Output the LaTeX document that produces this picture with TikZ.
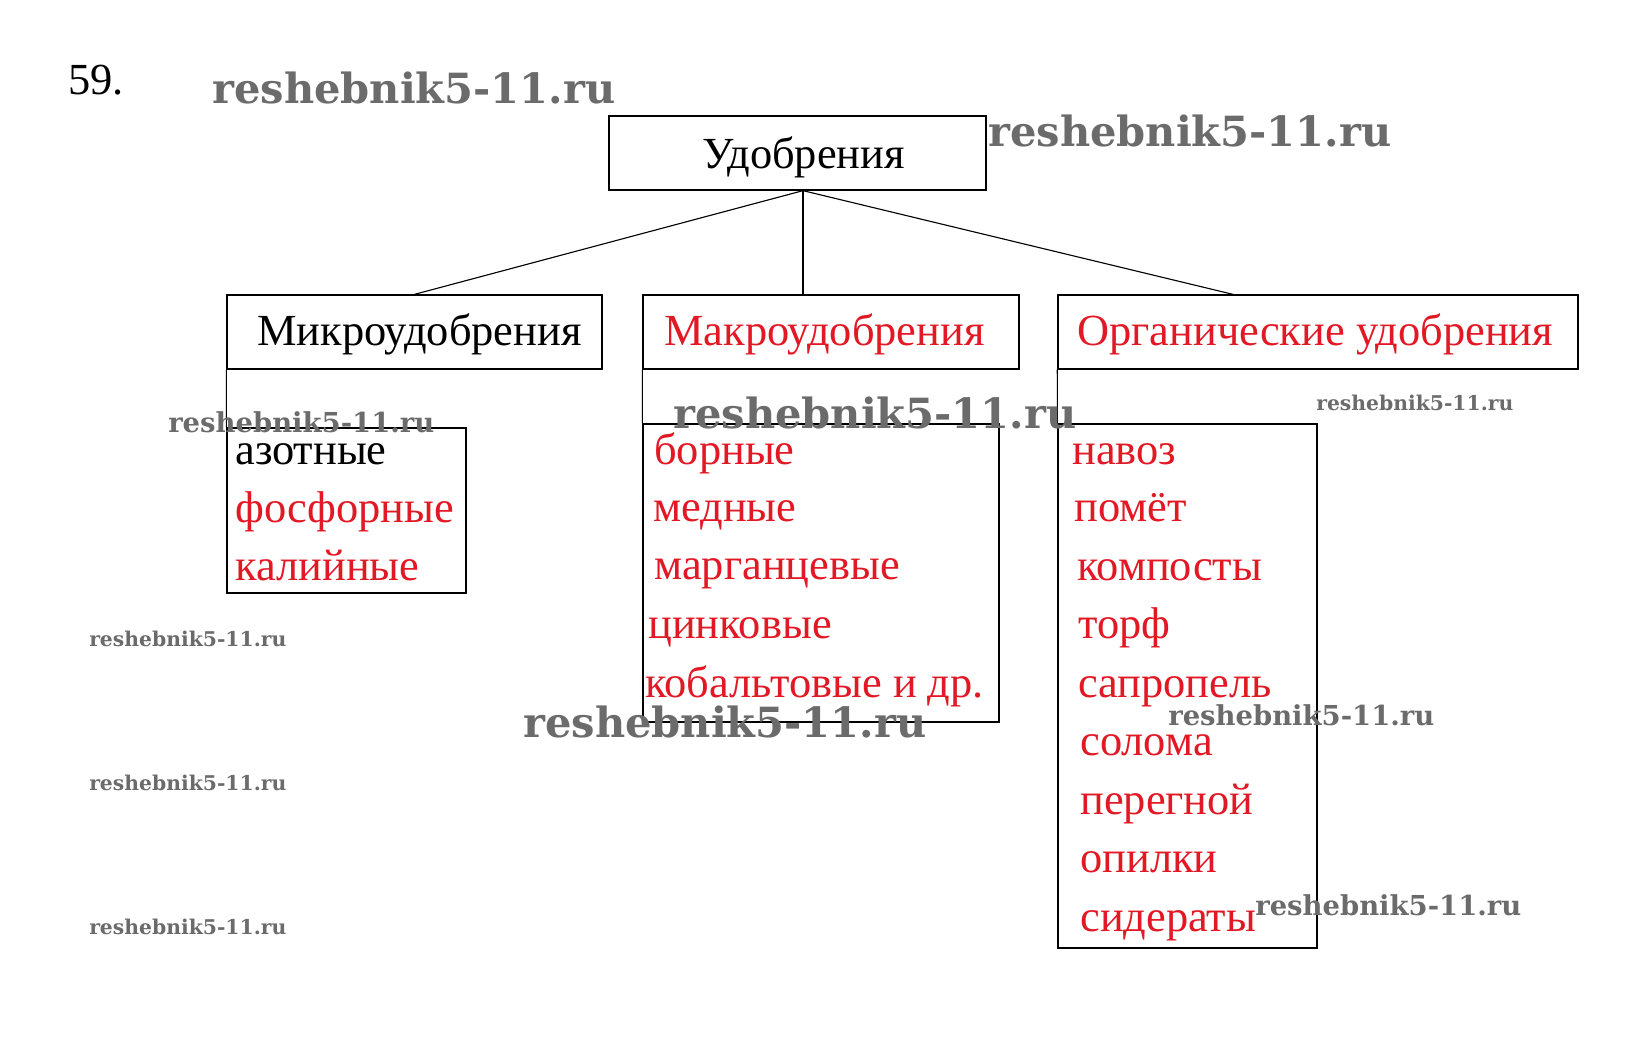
\documentclass[tikz,border=0pt]{standalone}
\usepackage{fontspec}
\setmainfont{Liberation Serif}
\newfontfamily\wmfont{DejaVu Serif}
\usepackage{graphicx}
\definecolor{myred}{RGB}{226,24,36}
\newcommand\mainsize{\fontsize{31.6pt}{37pt}\selectfont}
\newcommand\wmark[1]{\resizebox{#1}{!}{\wmfont\bfseries reshebnik5-11.ru}}
\begin{document}
\begin{tikzpicture}[x=0.025cm,y=-0.025cm,
  box/.style={draw, rectangle, line width=0.9pt, inner sep=0pt},
  conn/.style={line width=0.8pt},
  txt/.style={anchor=base west, inner sep=0pt, font=\mainsize},
  rtxt/.style={txt, text=myred},
  wm/.style={anchor=base west, inner sep=0pt, text=black!58}]
\useasboundingbox[fill=white] (0,0) rectangle (1640,1039);

% boxes
\node[box, minimum width=9.425cm, minimum height=1.85cm] (top) at (797.5,153) {};
\node[box, minimum width=9.375cm, minimum height=1.85cm] (micro) at (414.5,332) {};
\node[box, minimum width=9.4cm, minimum height=1.85cm] (macro) at (831,332) {};
\node[box, minimum width=13cm, minimum height=1.85cm] (org) at (1318,332) {};
\node[box, minimum width=5.975cm, minimum height=4.125cm] (azot) at (346.5,510.5) {};
\node[box, minimum width=8.9cm, minimum height=7.45cm] (mlist) at (821,573) {};
\node[box, minimum width=6.475cm, minimum height=13.1cm] (olist) at (1187.5,686) {};

% connectors
\coordinate (hub) at ([xshift=0.1375cm]top.south);
\coordinate (otop) at ([xshift=-2.125cm]org.north);
\draw[conn] (hub) -- (micro.north);
\draw[conn] (hub) -- (hub |- macro.north);
\draw[conn] (hub) -- (otop);
\draw[conn] (micro.south west) -- (azot.north west);
\draw[conn] (macro.south west) -- (mlist.north west);
\draw[conn] (org.south west) -- (olist.north west);

% titles
\node[txt] (num) at (68,94) {59.};
\node[txt] (ttop) at (702,168) {Удобрения};
\node[txt] (tmicro) at (257,345) {Микроудобрения};
\node[rtxt] (tmacro) at (664,345) {Макроудобрения};
\node[rtxt] (torg) at (1077,345) {Органические удобрения};

% micro list
\node[txt] (a1) at (235,464) {азотные};
\node[rtxt] (a2) at (235,522) {фосфорные};
\node[rtxt] (a3) at (235,580) {калийные};

% macro list
\node[rtxt] (m1) at (654,464) {борные};
\node[rtxt] (m2) at (653,521) {медные};
\node[rtxt] (m3) at (654,579) {марганцевые};
\node[rtxt] (m4) at (648,638) {цинковые};
\node[rtxt] (m5) at (645,697) {кобальтовые и др.};

% organic list
\node[rtxt] (o1) at (1072,464) {навоз};
\node[rtxt] (o2) at (1074,521.5) {помёт};
\node[rtxt] (o3) at (1077,580) {компосты};
\node[rtxt] (o4) at (1078,638.5) {торф};
\node[rtxt] (o5) at (1078,697) {сапропель};
\node[rtxt] (o6) at (1080,755.5) {солома};
\node[rtxt] (o7) at (1080,814) {перегной};
\node[rtxt] (o8) at (1080,872.5) {опилки};
\node[rtxt] (o9) at (1080,931) {сидераты};

% watermarks
\node[wm] (w1) at (212,103) {\wmark{10.075cm}};
\node[wm] (w2) at (988,146) {\wmark{10.075cm}};
\node[wm] (w3) at (168,432) {\wmark{6.65cm}};
\node[wm] (w4) at (673,428) {\wmark{10.075cm}};
\node[wm] (w5) at (1316,410) {\wmark{4.925cm}};
\node[wm] (w6) at (89,646) {\wmark{4.925cm}};
\node[wm] (w7) at (523,737) {\wmark{10.075cm}};
\node[wm] (w8) at (1168,725) {\wmark{6.65cm}};
\node[wm] (w9) at (89,790) {\wmark{4.925cm}};
\node[wm] (w10) at (89,934) {\wmark{4.925cm}};
\node[wm] (w11) at (1255,915) {\wmark{6.65cm}};
\end{tikzpicture}
\end{document}
